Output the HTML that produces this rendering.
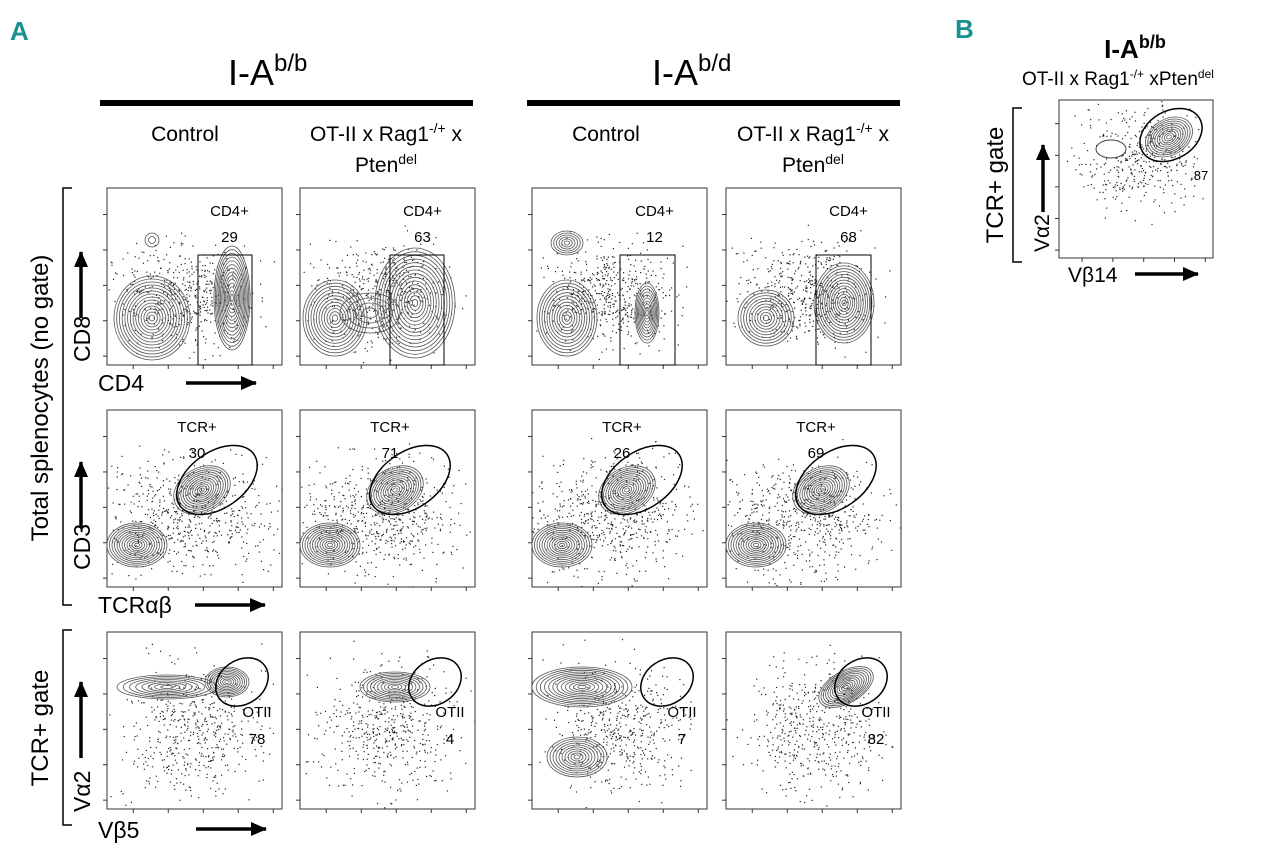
<!DOCTYPE html>
<html><head><meta charset="utf-8">
<style>
html,body{margin:0;padding:0;background:#fff;}
body{width:1280px;height:849px;overflow:hidden;position:relative;font-family:"Liberation Sans",sans-serif;}
svg{position:absolute;left:0;top:0;}
</style></head>
<body>
<svg id="s" width="1280" height="849" viewBox="0 0 1280 849" xmlns="http://www.w3.org/2000/svg" font-family="Liberation Sans, sans-serif">
<defs>
<marker id="ah" markerWidth="16" markerHeight="14" refX="15" refY="7" orient="auto" markerUnits="userSpaceOnUse">
<path d="M0,0 L16,7 L0,14 z" fill="#000"/>
</marker>
</defs>
<text x="10" y="40" font-size="26" font-weight="bold" fill="#1a9090" font-family="Liberation Sans Narrow, Liberation Sans, sans-serif">A</text>
<text x="955" y="38" font-size="26" font-weight="bold" fill="#1a9090" font-family="Liberation Sans Narrow, Liberation Sans, sans-serif">B</text>

<text x="228" y="85" font-size="36">I-A<tspan dy="-14" font-size="24">b/b</tspan></text>
<rect x="100" y="100" width="373" height="6" fill="#000"/>
<text x="652" y="85" font-size="36">I-A<tspan dy="-14" font-size="24">b/d</tspan></text>
<rect x="527" y="100" width="373" height="6" fill="#000"/>

<g font-size="21" text-anchor="middle">
<text x="185" y="141">Control</text>
<text x="386" y="141">OT-II x Rag1<tspan dy="-8" font-size="14">-/+</tspan><tspan dy="8"> x</tspan></text>
<text x="386" y="172">Pten<tspan dy="-8" font-size="14">del</tspan></text>
<text x="606" y="141">Control</text>
<text x="813" y="141">OT-II x Rag1<tspan dy="-8" font-size="14">-/+</tspan><tspan dy="8"> x</tspan></text>
<text x="813" y="172">Pten<tspan dy="-8" font-size="14">del</tspan></text>
</g>

<path d="M72,188 H63 V605 H72" fill="none" stroke="#000" stroke-width="1.5"/>
<path d="M72,630 H63 V825 H72" fill="none" stroke="#000" stroke-width="1.5"/>
<text transform="translate(48,398) rotate(-90)" font-size="24" text-anchor="middle">Total splenocytes (no gate)</text>
<text transform="translate(48,728) rotate(-90)" font-size="24" text-anchor="middle">TCR+ gate</text>

<text transform="translate(90,362) rotate(-90)" font-size="23">CD8</text>
<line x1="81" y1="318" x2="81" y2="252" stroke="#000" stroke-width="3.5" marker-end="url(#ah)"/>
<text x="98" y="391" font-size="23">CD4</text>
<line x1="186" y1="383" x2="256" y2="383" stroke="#000" stroke-width="3.5" marker-end="url(#ah)"/>

<text transform="translate(90,570) rotate(-90)" font-size="23">CD3</text>
<line x1="81" y1="528" x2="81" y2="462" stroke="#000" stroke-width="3.5" marker-end="url(#ah)"/>
<text x="98" y="613" font-size="23">TCRαβ</text>
<line x1="195" y1="605" x2="265" y2="605" stroke="#000" stroke-width="3.5" marker-end="url(#ah)"/>

<text transform="translate(90,812) rotate(-90)" font-size="23">Vα2</text>
<line x1="81" y1="758" x2="81" y2="682" stroke="#000" stroke-width="3.5" marker-end="url(#ah)"/>
<text x="98" y="838" font-size="23">Vβ5</text>
<line x1="196" y1="829" x2="266" y2="829" stroke="#000" stroke-width="3.5" marker-end="url(#ah)"/>

<text x="1135" y="58" font-size="26" font-weight="bold" text-anchor="middle">I-A<tspan dy="-10" font-size="18">b/b</tspan></text>
<text x="1022" y="85" font-size="19">OT-II x Rag1<tspan dy="-7" font-size="12">-/+</tspan><tspan dy="7"> xPten</tspan><tspan dy="-7" font-size="12">del</tspan></text>
<path d="M1022,108 H1013 V262 H1022" fill="none" stroke="#000" stroke-width="1.5"/>
<text transform="translate(1003,185) rotate(-90)" font-size="24" text-anchor="middle">TCR+ gate</text>
<text transform="translate(1049,252) rotate(-90)" font-size="21">Vα2</text>
<line x1="1043" y1="212" x2="1043" y2="145" stroke="#000" stroke-width="3.5" marker-end="url(#ah)"/>
<text x="1068" y="282" font-size="21">Vβ14</text>
<line x1="1135" y1="274" x2="1198" y2="274" stroke="#000" stroke-width="3.5" marker-end="url(#ah)"/>
<g id="plots"></g>
</svg>
<script>
var seed=7;function r(){seed=(seed*16807)%2147483647;return seed/2147483647;}
function g(){return (r()+r()+r()-1.5)/0.7;}
var P=document.getElementById('plots');var h='';
function box(x,y,w,hh){h+='<rect x="'+x+'" y="'+y+'" width="'+w+'" height="'+hh+'" fill="none" stroke="#333" stroke-width="1"/>';
 for(var i=0;i<5;i++){var ty=y+hh*(0.15+i*0.2);h+='<line x1="'+(x-4)+'" y1="'+ty+'" x2="'+x+'" y2="'+ty+'" stroke="#333"/>';var tx=x+w*(0.15+i*0.2);h+='<line x1="'+tx+'" y1="'+(y+hh)+'" x2="'+tx+'" y2="'+(y+hh+4)+'" stroke="#333"/>';}}
function dots(cx,cy,sx,sy,n,x0,y0,w,hh){for(var i=0;i<n;i++){var px=cx+g()*sx,py=cy+g()*sy;if(px>x0&&px<x0+w&&py>y0&&py<y0+hh)h+='<rect x="'+px.toFixed(1)+'" y="'+py.toFixed(1)+'" width="1.2" height="1.2" fill="#222"/>';}}
function cont(cx,cy,rx,ry,n,rot){for(var i=1;i<=n;i++){var f=i/n;h+='<ellipse cx="'+cx+'" cy="'+cy+'" rx="'+(rx*f).toFixed(1)+'" ry="'+(ry*f).toFixed(1)+'" fill="none" stroke="#555" stroke-width="0.8" transform="rotate('+(rot||0)+' '+cx+' '+cy+')"/>';}}
function txt(x,y,t,s){h+='<text x="'+x+'" y="'+y+'" font-size="'+(s||15)+'" text-anchor="middle">'+t+'</text>';}
var C=[107,300,532,726],W=175,R=[188,410,632],H=177;
for(var c=0;c<4;c++){var x=C[c],y=R[0];box(x,y,W,H);
 dots(x+W*0.45,y+H*0.6,45,35,500,x,y,W,H);
 if(c==0){cont(x+45,y+130,38,42,14);cont(x+125,y+110,18,52,14);cont(x+45,y+52,7,7,2);h+='<rect x="'+(x+91)+'" y="'+(y+67)+'" width="54" height="110" fill="none" stroke="#000"/>';}
 if(c==1){cont(x+35,y+130,32,38,12);cont(x+115,y+115,40,55,15);cont(x+70,y+125,30,20,4);h+='<rect x="'+(x+90)+'" y="'+(y+67)+'" width="54" height="110" fill="none" stroke="#000"/>';}
 if(c==2){cont(x+35,y+130,30,38,12);cont(x+115,y+125,12,30,10);cont(x+35,y+55,16,12,6);h+='<rect x="'+(x+88)+'" y="'+(y+67)+'" width="55" height="110" fill="none" stroke="#000"/>';}
 if(c==3){cont(x+40,y+130,28,28,10);cont(x+118,y+115,30,40,14);h+='<rect x="'+(x+90)+'" y="'+(y+67)+'" width="55" height="110" fill="none" stroke="#000"/>';}
 txt(x+W*0.7,y+28,'CD4+');txt(x+W*0.7,y+54,['29','63','12','68'][c]);}
var v2=['30','71','26','69'];
for(var c=0;c<4;c++){var x=C[c],y=R[1];box(x,y,W,H);
 dots(x+W*0.45,y+H*0.6,55,40,600,x,y,W,H);
 cont(x+30,y+135,30,22,12);cont(x+95,y+80,30,22,12,-30);
 h+='<ellipse cx="'+(x+110)+'" cy="'+(y+70)+'" rx="45" ry="28" fill="none" stroke="#000" stroke-width="1.5" transform="rotate(-35 '+(x+110)+' '+(y+70)+')"/>';
 txt(x+90,y+22,'TCR+');txt(x+90,y+48,v2[c]);}
var v3=['78','4','7','82'];
for(var c=0;c<4;c++){var x=C[c],y=R[2];box(x,y,W,H);
 dots(x+W*0.5,y+H*0.55,45,45,500,x,y,W,H);
 if(c==0){cont(x+60,y+55,50,12,8);cont(x+120,y+50,22,15,10);}
 if(c==1){cont(x+95,y+55,35,15,10);}
 if(c==2){cont(x+50,y+55,50,20,12);cont(x+45,y+125,30,20,10);}
 if(c==3){cont(x+120,y+55,30,16,12,-30);}
 h+='<ellipse cx="'+(x+135)+'" cy="'+(y+50)+'" rx="28" ry="22" fill="none" stroke="#000" stroke-width="1.5" transform="rotate(-35 '+(x+135)+' '+(y+50)+')"/>';
 txt(x+150,y+85,'OTII');txt(x+150,y+112,v3[c]);}
var x=1059,y=100,w=154,hh=158;box(x,y,w,hh);dots(x+80,y+60,40,35,400,x,y,w,hh);
h+='<ellipse cx="'+(x+52)+'" cy="'+(y+49)+'" rx="15" ry="9" fill="#fff" stroke="#444"/>';
cont(x+110,y+37,25,18,10,-30);
h+='<ellipse cx="'+(x+112)+'" cy="'+(y+35)+'" rx="33" ry="24" fill="none" stroke="#000" stroke-width="1.5" transform="rotate(-30 '+(x+112)+' '+(y+35)+')"/>';
txt(x+142,y+80,'87',13);
P.innerHTML=h;
</script>
</body></html>
